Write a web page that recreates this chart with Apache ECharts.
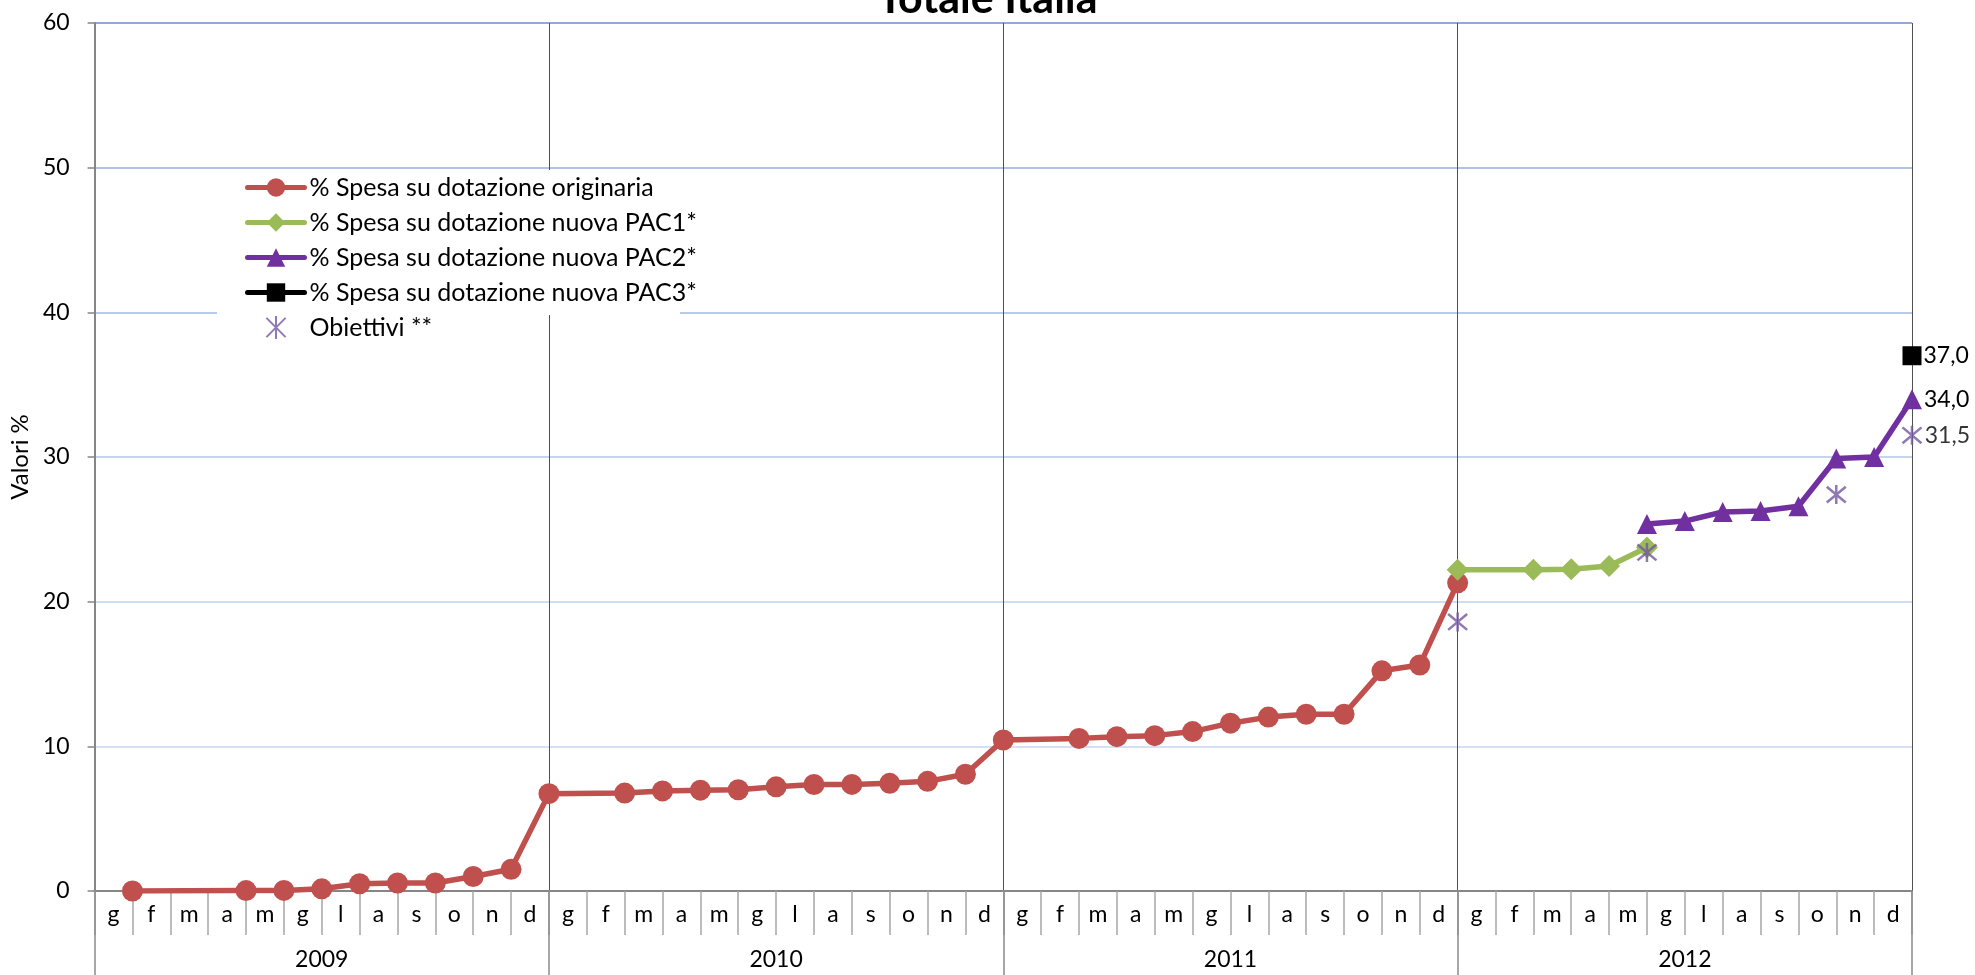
<!DOCTYPE html>
<html>
<head>
<meta charset="utf-8">
<script src="https://cdn.jsdelivr.net/npm/echarts@6/dist/echarts.min.js"></script>
<style>
html,body{margin:0;padding:0;background:#fff;}
#chart{width:1975px;height:975px;}
</style>
</head>
<body>
<div id="chart"></div>
<script>
// ---- data ----
var monthLetters = ['g','f','m','a','m','g','l','a','s','o','n','d'];
var years = ['2009','2010','2011','2012'];
var yTicks = {min: 0, max: 60, interval: 10};

var spesaOriginaria = [
  0.0, null, null, 0.03, 0.04, 0.15, 0.5, 0.55, 0.55, 1.0, 1.5, 6.73,
  null, 6.77, 6.92, 6.97, 7.0, 7.2, 7.36, 7.37, 7.44, 7.58, 8.07, 10.44,
  null, 10.55, 10.67, 10.74, 11.02, 11.6, 12.02, 12.22, 12.22, 15.22, 15.62, 21.3,
  null, null, null, null, null, null, null, null, null, null, null, null
];
var spesaPAC1 = [
  null, null, null, null, null, null, null, null, null, null, null, null,
  null, null, null, null, null, null, null, null, null, null, null, null,
  null, null, null, null, null, null, null, null, null, null, null, 22.2,
  null, 22.2, 22.24, 22.47, 23.75, null, null, null, null, null, null, null
];
var spesaPAC2 = [
  null, null, null, null, null, null, null, null, null, null, null, null,
  null, null, null, null, null, null, null, null, null, null, null, null,
  null, null, null, null, null, null, null, null, null, null, null, null,
  null, null, null, null, 25.37, 25.57, 26.2, 26.27, 26.6, 29.9, 30.0, 34.0
];
var spesaPAC3 = [
  null, null, null, null, null, null, null, null, null, null, null, null,
  null, null, null, null, null, null, null, null, null, null, null, null,
  null, null, null, null, null, null, null, null, null, null, null, null,
  null, null, null, null, null, null, null, null, null, null, null, 37.0
];
var obiettivi = [
  null, null, null, null, null, null, null, null, null, null, null, null,
  null, null, null, null, null, null, null, null, null, null, null, null,
  null, null, null, null, null, null, null, null, null, null, null, 18.6,
  null, null, null, null, 23.4, null, null, null, null, 27.4, null, 31.5
];
var seriesNames = [
  '% Spesa su dotazione originaria',
  '% Spesa su dotazione nuova PAC1*',
  '% Spesa su dotazione nuova PAC2*',
  '% Spesa su dotazione nuova PAC3*',
  'Obiettivi **'
];

// ---- build ----
var months = [];
years.forEach(function(){ months = months.concat(monthLetters); });
function toPoints(arr){
  var out = [];
  arr.forEach(function(v, i){ if (v !== null) out.push([i + 1, v]); });
  return out;
}
function lastLabel(len){
  return function(p){
    return p.dataIndex === len - 1 ? p.value[1].toFixed(1).replace('.', ',') : '';
  };
}
var FONT = 'Lato';

var pOrig = toPoints(spesaOriginaria);
var p1 = toPoints(spesaPAC1);
var p2 = toPoints(spesaPAC2);
var p3 = toPoints(spesaPAC3);
var pObj = toPoints(obiettivi);

var asterisk = 'path://M0,0L20,20M20,0L0,20M10,-2L10,22';

var chart = echarts.init(document.getElementById('chart'), null, {renderer: 'canvas'});
chart.setOption({
  animation: false,
  backgroundColor: '#fff',
  textStyle: {fontFamily: FONT},
  title: {
    text: 'Totale Italia',
    left: 'center',
    top: -27,
    textStyle: {fontFamily: FONT, fontSize: 43, fontWeight: 'bold', color: '#000'}
  },
  graphic: [{
    type: 'rect', z: 50,
    shape: {x: 217, y: 170, width: 463, height: 145},
    style: {fill: '#fff'}
  }],
  legend: {
    orient: 'vertical',
    left: 240,
    top: 170,
    z: 100,
    itemWidth: 57,
    itemHeight: 23,
    itemGap: 10,
    lineStyle: {width: 5, cap: 'round'},
    textStyle: {fontFamily: FONT, fontSize: 25, color: '#000'},
    data: seriesNames
  },
  grid: {left: 92, right: 63, top: 23, bottom: 84, containLabel: false},
  xAxis: [
    {
      type: 'category', data: months, position: 'bottom', boundaryGap: true,
      axisLine: {show: true, lineStyle: {color: '#868686', width: 2}},
      axisTick: {show: true, interval: 0, length: 44, lineStyle: {color: '#a6a6a6', width: 1.5}},
      axisLabel: {interval: 0, margin: 12, fontFamily: FONT, fontSize: 23, color: '#000'},
      splitLine: {show: false}
    },
    {
      type: 'value', min: 0, max: 48, show: false
    },
    {
      type: 'category', data: years, position: 'bottom', boundaryGap: true,
      axisLine: {show: false},
      axisTick: {show: true, interval: 0, length: 84, lineStyle: {color: '#8a8a8a', width: 1.5}},
      axisLabel: {interval: 0, margin: 57, fontFamily: FONT, fontSize: 23, color: '#000'},
      splitLine: {show: true, interval: 0, lineStyle: {color: '#505050', width: 1}}
    }
  ],
  yAxis: {
    type: 'value', min: yTicks.min, max: yTicks.max, interval: yTicks.interval,
    name: 'Valori %', nameLocation: 'middle', nameGap: 50,
    nameTextStyle: {fontFamily: FONT, fontSize: 24, color: '#000'},
    axisLine: {show: true, lineStyle: {color: '#868686', width: 2}},
    axisTick: {show: true, length: 7, lineStyle: {color: '#868686', width: 1.5}},
    axisLabel: {margin: 25, fontFamily: FONT, fontSize: 23, color: '#000'},
    splitLine: {show: true, lineStyle: {width: 2,
      color: ['#d9e3f3', '#d5e0f2', '#d0dcf1', '#c6d5ee', '#b9cbea', '#b0c4e8', '#8eaadb']}}
  },
  series: [
    {
      name: seriesNames[0], type: 'line', xAxisIndex: 1, data: pOrig,
      symbol: 'circle', symbolSize: 21,
      lineStyle: {color: '#C0504D', width: 5.5},
      itemStyle: {color: '#C0504D'}, z: 2
    },
    {
      name: seriesNames[1], type: 'line', xAxisIndex: 1, data: p1,
      symbol: 'diamond', symbolSize: 22,
      lineStyle: {color: '#9BBB59', width: 5.5},
      itemStyle: {color: '#9BBB59'}, z: 3
    },
    {
      name: seriesNames[2], type: 'line', xAxisIndex: 1, data: p2,
      symbol: 'triangle', symbolSize: 20,
      lineStyle: {color: '#7030A0', width: 5.5},
      itemStyle: {color: '#7030A0'}, z: 4,
      label: {show: true, position: 'right', distance: 2, formatter: lastLabel(p2.length),
        fontFamily: FONT, fontSize: 23, color: '#000'}
    },
    {
      name: seriesNames[3], type: 'line', xAxisIndex: 1, data: p3,
      symbol: 'rect', symbolSize: 19,
      lineStyle: {color: '#000', width: 5.5},
      itemStyle: {color: '#000'}, z: 5,
      label: {show: true, position: 'right', distance: 2, formatter: lastLabel(p3.length),
        fontFamily: FONT, fontSize: 23, color: '#000'}
    },
    {
      name: seriesNames[4], type: 'scatter', xAxisIndex: 1, data: pObj,
      symbol: asterisk, symbolSize: 19,
      itemStyle: {color: 'rgba(0,0,0,0)', borderColor: '#7358A0', borderWidth: 2.5},
      z: 6,
      label: {show: true, position: 'right', distance: 2, formatter: lastLabel(pObj.length),
        fontFamily: FONT, fontSize: 23, color: '#000'}
    }
  ]
});
</script>
</body>
</html>
